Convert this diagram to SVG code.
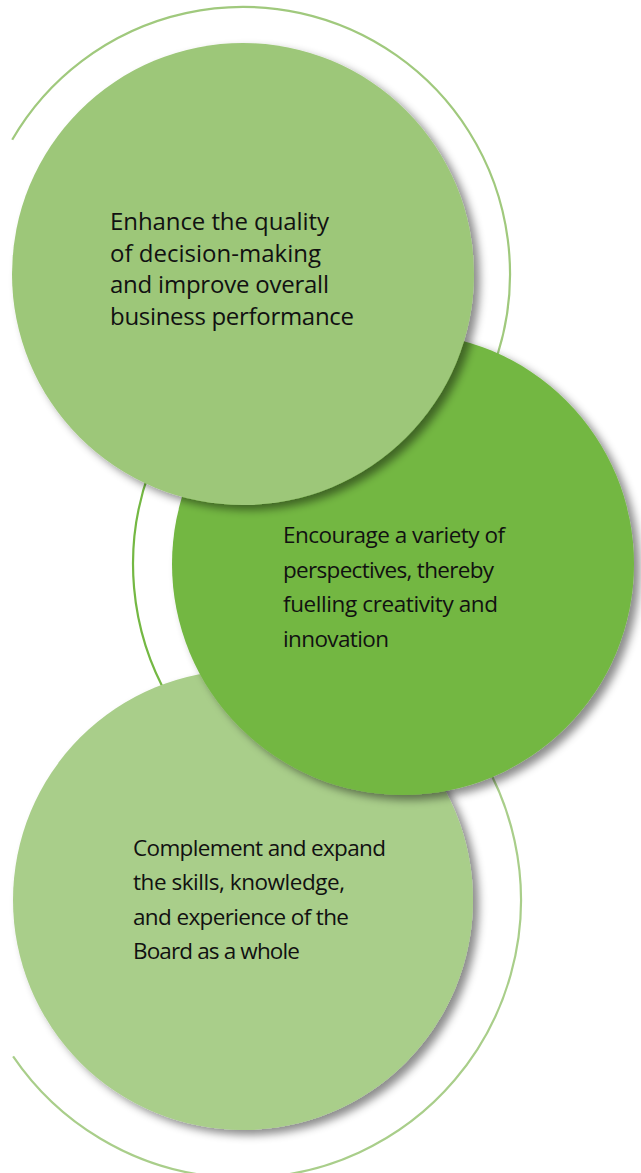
<svg xmlns="http://www.w3.org/2000/svg" width="641" height="1173" viewBox="0 0 641 1173">
  <defs>
    <filter id="shadow" x="-20%" y="-20%" width="140%" height="140%">
      <feDropShadow dx="6" dy="5" stdDeviation="4" flood-color="#000" flood-opacity="0.45"/>
    </filter>
  </defs>
  <style>
    .ring { fill: none; stroke-width: 2.2; }
    .r1 { stroke: #a0c97d; }
    .r2 { stroke: #74b843; }
    .r3 { stroke: #a9ce8a; }
    .txt { font-family: "Open Sans", "Noto Sans", "Liberation Sans", sans-serif; font-size: 22.5px; fill: #111111; }
    .big { font-size: 24px; }
    .c1 { fill: #9dc779; }
    .c2 { fill: #73b743; }
    .c3 { fill: #a9ce8a; }
  </style>
  <rect width="641" height="1173" fill="#ffffff"/>
  <g id="rings">
    <path class="ring r1" d="M12.2 139.7 A267 267 0 1 1 447.5 445.6"/>
    <path class="ring r2" d="M149.3 471.7 A270 270 0 0 0 169.2 699"/>
    <path class="ring r3" d="M360.5 648 A278 278 0 1 1 13.1 1056.3"/>
  </g>
  <g id="node3">
    <circle class="c3" cx="243" cy="900" r="230" filter="url(#shadow)"/>
    <text class="txt" x="133" y="856" textLength="253">Complement and expand</text>
    <text class="txt" x="133" y="890" textLength="212">the skills, knowledge,</text>
    <text class="txt" x="133" y="925" textLength="216">and experience of the</text>
    <text class="txt" x="133" y="959" textLength="167">Board as a whole</text>
  </g>
  <g id="node2">
    <circle class="c2" cx="403" cy="564" r="231" filter="url(#shadow)"/>
    <text class="txt" x="283" y="543" textLength="222">Encourage a variety of</text>
    <text class="txt" x="283" y="578" textLength="211">perspectives, thereby</text>
    <text class="txt" x="283" y="612" textLength="215">fuelling creativity and</text>
    <text class="txt" x="283" y="647" textLength="106">innovation</text>
  </g>
  <g id="node1">
    <circle class="c1" cx="243" cy="274" r="231" filter="url(#shadow)"/>
    <text class="txt big" x="110" y="230" textLength="219">Enhance the quality</text>
    <text class="txt big" x="110" y="261.5" textLength="211">of decision-making</text>
    <text class="txt big" x="110" y="293" textLength="219">and improve overall</text>
    <text class="txt big" x="110" y="324.5" textLength="244">business performance</text>
  </g>
</svg>
